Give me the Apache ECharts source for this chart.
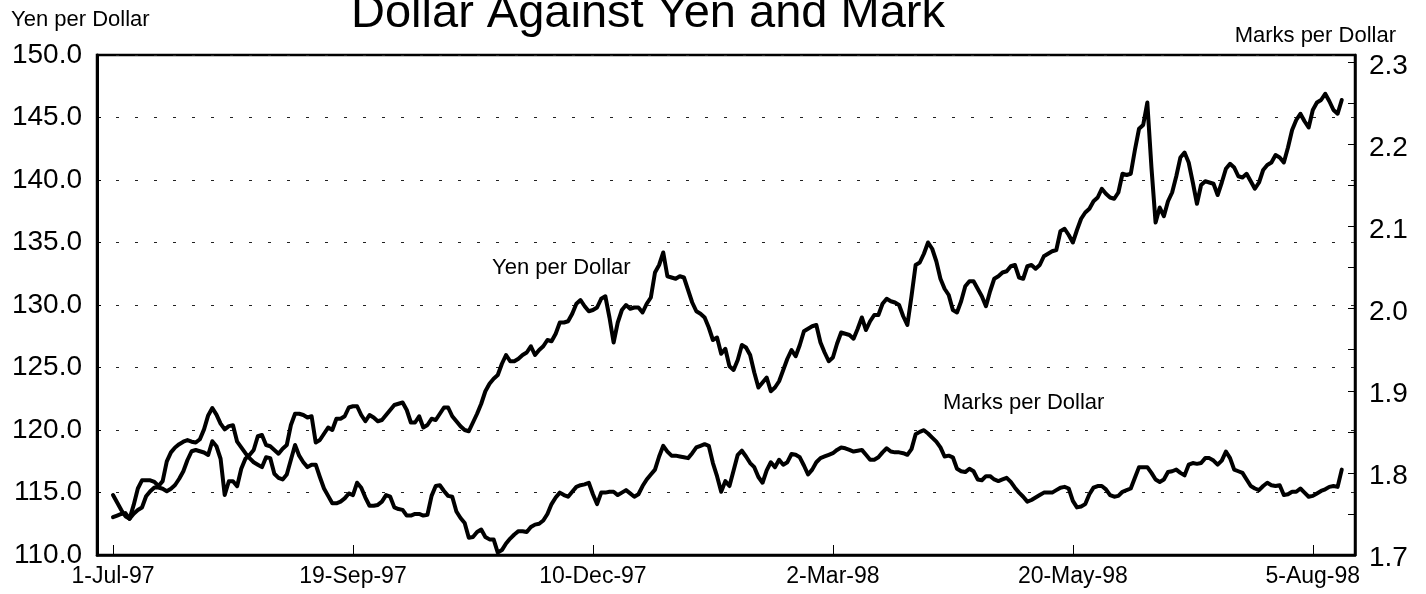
<!DOCTYPE html>
<html>
<head>
<meta charset="utf-8">
<script src="https://cdn.jsdelivr.net/npm/echarts@6/dist/echarts.min.js"></script>
<style>
html,body{margin:0;padding:0;background:#fff;}
#chart{width:1426px;height:594px;}
</style>
</head>
<body>
<div id="chart"></div>
<script>
// Yen per Dollar, daily (business days) from 1-Jul-97
const yen = [
114.8,114.2,113.6,113.1,112.9,113.3,113.6,113.8,114.7,115.1,
115.4,115.4,115.3,115.1,115.3,115.6,116.1,116.7,117.6,118.3,
118.4,118.3,118.2,118.0,119.1,118.7,117.7,114.8,115.9,115.9,
115.5,116.9,117.7,118.0,118.4,119.5,119.6,118.8,118.7,118.4,
118.1,118.5,118.8,120.4,121.3,121.3,121.2,121.0,121.1,119.0,
119.2,119.7,120.2,120.0,120.9,120.9,121.1,121.8,121.9,121.9,
121.2,120.7,121.2,121.0,120.7,120.8,121.2,121.6,122.0,122.1,
122.2,121.6,120.6,120.6,121.1,120.2,120.4,120.9,120.8,121.3,
121.8,121.8,121.1,120.7,120.3,120.0,119.9,120.6,121.3,122.1,
123.1,123.7,124.1,124.4,125.3,126.0,125.5,125.5,125.7,126.0,
126.2,126.7,126.0,126.4,126.7,127.2,127.1,127.7,128.6,128.6,
128.7,129.3,130.1,130.4,129.9,129.5,129.6,129.8,130.5,130.7,
129.0,127.0,128.6,129.6,130.0,129.7,129.8,129.8,129.4,130.1,
130.6,132.6,133.2,134.2,132.3,132.2,132.1,132.3,132.2,131.2,
130.2,129.5,129.3,129.0,128.2,127.2,127.4,126.1,126.5,125.1,
124.8,125.6,126.8,126.6,126.0,124.6,123.4,123.8,124.2,123.1,
123.4,123.9,124.8,125.7,126.4,125.9,126.8,127.9,128.1,128.3,
128.4,127.0,126.2,125.5,125.8,126.9,127.8,127.7,127.6,127.3,
128.1,129.0,128.0,128.7,129.2,129.2,130.1,130.5,130.3,130.2,
130.0,129.1,128.4,130.7,133.2,133.4,134.1,135.0,134.5,133.5,
132.1,131.3,130.8,129.6,129.4,130.3,131.5,131.9,131.9,131.3,
130.7,129.9,131.1,132.1,132.3,132.6,132.7,133.1,133.2,132.2,
132.1,133.1,133.2,132.9,133.2,133.9,134.1,134.3,134.4,135.9,
136.1,135.6,135.0,136.0,136.9,137.4,137.7,138.3,138.6,139.3,
138.9,138.6,138.5,139.0,140.5,140.4,140.5,142.4,144.1,144.4,
146.2,141.0,136.6,137.8,137.1,138.3,139.0,140.3,141.8,142.2,
141.4,139.8,138.1,139.6,139.9,139.8,139.7,138.8,139.8,140.9,
141.3,141.0,140.3,140.2,140.5,139.9,139.3,139.8,140.8,141.2,
141.4,142.0,141.8,141.4,142.6,144.0,144.8,145.3,144.7,144.2,
145.6,146.2,146.4,146.9,146.3,145.6,145.3,146.4
];
// Marks per Dollar, same days
const marks = [
1.746,1.748,1.750,1.751,1.744,1.761,1.781,1.791,1.791,1.791,
1.789,1.784,1.790,1.814,1.825,1.831,1.835,1.838,1.840,1.838,
1.837,1.841,1.853,1.870,1.879,1.871,1.860,1.853,1.857,1.858,
1.838,1.831,1.824,1.818,1.813,1.810,1.807,1.819,1.818,1.799,
1.794,1.792,1.798,1.816,1.834,1.821,1.813,1.807,1.810,1.810,
1.795,1.781,1.772,1.763,1.763,1.765,1.769,1.775,1.773,1.788,
1.782,1.770,1.760,1.760,1.761,1.765,1.773,1.771,1.758,1.756,
1.755,1.748,1.748,1.750,1.750,1.748,1.749,1.772,1.784,1.785,
1.778,1.772,1.771,1.753,1.745,1.739,1.721,1.722,1.728,1.731,
1.722,1.719,1.719,1.703,1.706,1.714,1.720,1.725,1.729,1.729,
1.728,1.734,1.737,1.738,1.742,1.750,1.762,1.770,1.776,1.773,
1.771,1.777,1.783,1.785,1.786,1.788,1.774,1.762,1.776,1.776,
1.777,1.777,1.773,1.776,1.779,1.775,1.771,1.774,1.784,1.792,
1.798,1.804,1.820,1.833,1.826,1.821,1.821,1.820,1.819,1.818,
1.824,1.831,1.833,1.835,1.833,1.812,1.796,1.777,1.790,1.784,
1.803,1.822,1.827,1.820,1.812,1.807,1.795,1.788,1.803,1.813,
1.807,1.816,1.810,1.813,1.823,1.822,1.819,1.809,1.798,1.804,
1.813,1.818,1.820,1.822,1.824,1.828,1.831,1.830,1.828,1.826,
1.827,1.828,1.822,1.816,1.816,1.819,1.825,1.830,1.826,1.825,
1.825,1.824,1.822,1.829,1.847,1.850,1.852,1.848,1.843,1.838,
1.831,1.820,1.821,1.819,1.805,1.802,1.801,1.805,1.802,1.792,
1.791,1.796,1.796,1.792,1.790,1.792,1.794,1.789,1.782,1.776,
1.771,1.765,1.767,1.770,1.773,1.776,1.776,1.776,1.779,1.782,
1.783,1.781,1.766,1.758,1.759,1.762,1.774,1.782,1.784,1.784,
1.780,1.773,1.771,1.772,1.777,1.779,1.781,1.794,1.807,1.807,
1.807,1.800,1.792,1.789,1.792,1.801,1.802,1.804,1.800,1.797,
1.810,1.812,1.811,1.812,1.818,1.818,1.815,1.810,1.815,1.826,
1.818,1.804,1.802,1.800,1.792,1.784,1.781,1.779,1.784,1.788,
1.785,1.784,1.785,1.773,1.774,1.777,1.777,1.781,1.776,1.771,
1.772,1.775,1.778,1.780,1.783,1.784,1.783,1.804
];
// category positions (business-day index) that carry a date label
const tickIdx = [0, 58, 116, 174, 232, 290];
const tickLabels = ['1-Jul-97', '19-Sep-97', '10-Dec-97', '2-Mar-98', '20-May-98', '5-Aug-98'];

const FONT = '"Liberation Sans", Arial, Helvetica, sans-serif';
const chart = echarts.init(document.getElementById('chart'), null, {renderer: 'canvas'});

const option = {
  animation: false,
  backgroundColor: '#fff',
  textStyle: {fontFamily: FONT, color: '#000'},
  grid: {left: 97, right: 71, top: 55, bottom: 39, show: true, borderColor: '#000', borderWidth: 2.5, backgroundColor: 'transparent'},
  xAxis: {
    type: 'value', min: -3.87, max: 300.2,
    axisLine: {show: true, onZero: false, lineStyle: {color: '#000', width: 2.5}},
    splitLine: {show: false},
    axisTick: {show: true, inside: true, length: 10, customValues: tickIdx, lineStyle: {color: '#000', width: 1}},
    axisLabel: {
      customValues: tickIdx, fontSize: 23, margin: 10, color: '#000', fontFamily: FONT,
      formatter: v => { const k = tickIdx.indexOf(Math.round(v)); return k >= 0 ? tickLabels[k] : ''; }
    }
  },
  yAxis: [
    {
      type: 'value', min: 110, max: 150, interval: 5, position: 'left',
      axisLine: {show: true, onZero: false, lineStyle: {color: '#000', width: 3}},
      axisTick: {show: true, inside: true, length: 4, lineStyle: {color: '#000', width: 1}},
      splitLine: {show: true, lineStyle: {type: [3, 16], color: '#222', width: 1.2}},
      axisLabel: {fontSize: 28, margin: 15, color: '#000', fontFamily: FONT, formatter: v => v.toFixed(1)}
    },
    {
      type: 'value', min: 1.7, max: 2.309, interval: 0.05, position: 'right',
      axisLine: {show: true, onZero: false, lineStyle: {color: '#000', width: 2.5}},
      axisTick: {show: true, inside: true, length: 7, lineStyle: {color: '#000', width: 1}},
      splitLine: {show: false},
      axisLabel: {
        margin: 14, color: '#000', fontFamily: FONT,
        formatter: v => { const r = Math.round(v * 100); return (r % 10 === 0) ? '{a|' + (r / 100).toFixed(1) + '}' : ''; },
        rich: {a: {fontSize: 28, fontFamily: FONT, color: '#000', padding: [7, 0, 0, 0]}}
      }
    }
  ],
  graphic: [
    {type: 'text', style: {x: 648, y: 14, text: 'Dollar Against Yen and Mark', font: '47px ' + FONT, fill: '#000', textAlign: 'center', textVerticalAlign: 'middle'}},
    {type: 'text', style: {x: 11, y: 20, text: 'Yen per Dollar', font: '22px ' + FONT, fill: '#000', textAlign: 'left', textVerticalAlign: 'middle'}},
    {type: 'text', style: {x: 1396, y: 36, text: 'Marks per Dollar', font: '22px ' + FONT, fill: '#000', textAlign: 'right', textVerticalAlign: 'middle'}},
    {type: 'text', style: {x: 492, y: 268, text: 'Yen per Dollar', font: '22px ' + FONT, fill: '#000', textAlign: 'left', textVerticalAlign: 'middle'}},
    {type: 'text', style: {x: 943, y: 403, text: 'Marks per Dollar', font: '22px ' + FONT, fill: '#000', textAlign: 'left', textVerticalAlign: 'middle'}}
  ],
  series: [
    {name: 'Yen per Dollar', type: 'line', yAxisIndex: 0, data: yen.map((v, i) => [i, v]), symbol: 'none', smooth: false,
     lineStyle: {color: '#000', width: 4, join: 'round', cap: 'round'}},
    {name: 'Marks per Dollar', type: 'line', yAxisIndex: 1, data: marks.map((v, i) => [i, v]), symbol: 'none', smooth: false,
     lineStyle: {color: '#000', width: 4, join: 'round', cap: 'round'}}
  ]
};
chart.setOption(option);
</script>
</body>
</html>
